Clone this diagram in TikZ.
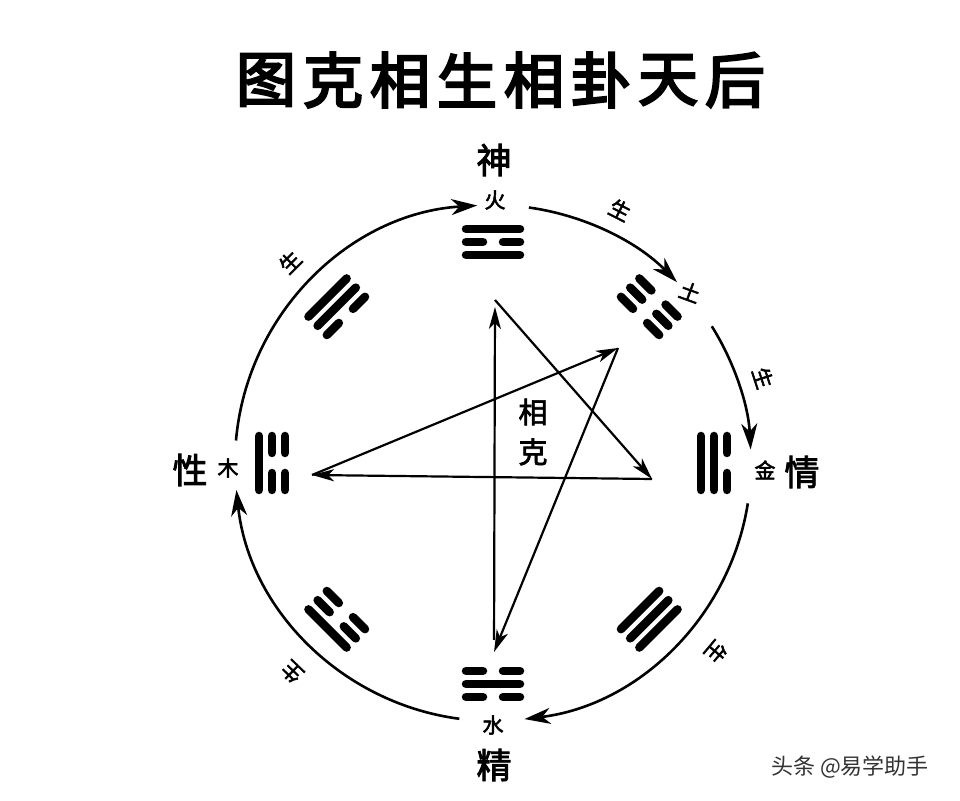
\documentclass[tikz,border=0pt]{standalone}
\usepackage{fontspec}
\usepackage{tikz}
\usetikzlibrary{arrows.meta,calc}
\newfontfamily\cjk[FakeBold=2.5]{Noto Sans CJK SC}
\newfontfamily\cjktitle[FakeBold=4]{Noto Sans CJK SC}
\newfontfamily\cjkmark{Noto Sans CJK SC}

\tikzset{
	shengarc/.style={line width=2.6pt, -{Stealth[length=26pt,width=16pt,inset=8pt]}},
	keline/.style={line width=2.2pt, -{Stealth[length=22pt,width=12pt,inset=6pt]}},
	yao/.style={line width=8.5pt, line cap=round},
	titlezi/.style={font=\cjktitle\fontsize{60}{60}\selectfont, inner sep=0pt},
	bigzi/.style={font=\cjk\fontsize{35}{35}\selectfont, inner sep=0pt},
	kezi/.style={font=\cjk\fontsize{29}{29}\selectfont, inner sep=0pt},
	xiaozi/.style={font=\cjk\fontsize{21}{21}\selectfont, inner sep=0pt},
}

% #1 angle, #2 lines from the centre outwards (1 whole, 0 broken)
\newcommand\guaxiang[2]{%
	\begin{scope}[shift={(C)}, rotate=#1]
		\foreach \yao [count=\i from 0] in {#2}{
			\pgfmathsetmacro\rr{208+13*\i}
			\ifnum\yao=1
				\draw[yao] (\rr,-27) -- (\rr,27);
			\else
				\draw[yao] (\rr,-27) -- (\rr,-10) (\rr,10) -- (\rr,27);
			\fi
		}
	\end{scope}}

\begin{document}
\begin{tikzpicture}[x=1pt, y=1pt]
	\useasboundingbox[fill=white] (0,0) rectangle (960,800);
	\coordinate (C) at (493,337);

	\foreach \zi [count=\i from 0] in {图,克,相,生,相,卦,天,后}
		\node[titlezi] (title\i) at (266+67*\i, 720) {\zi};

	% xiang sheng
	\draw[shengarc] ($(C)+(175:258)$) arc[start angle=175, end angle=93.5, radius=258];
	\draw[shengarc] ($(C)+(82:258)$) arc[start angle=82, end angle=44.5, radius=258];
	\draw[shengarc] ($(C)+(32:258)$) arc[start angle=32, end angle=3, radius=258];
	\draw[shengarc] ($(C)+(-9:258)$) arc[start angle=-9, end angle=-83, radius=258];
	\draw[shengarc] ($(C)+(-97.5:258)$) arc[start angle=-97.5, end angle=-174, radius=258];

	\guaxiang{90}{1,0,1}
	\guaxiang{45}{0,0,0}
	\guaxiang{0}{1,1,0}
	\guaxiang{-45}{1,1,1}
	\guaxiang{-90}{0,1,0}
	\guaxiang{-135}{0,0,1}
	\guaxiang{180}{0,0,1}
	\guaxiang{135}{0,1,1}

	\node[bigzi] (shen) at (494,640) {神};
	\node[xiaozi] (huo) at (495,600) {火};
	\node[bigzi] (qing) at (802,328) {情};
	\node[xiaozi] (jin) at (765,330) {金};
	\node[bigzi] (jing) at (494,35) {精};
	\node[xiaozi] (shui) at (493,75) {水};
	\node[bigzi] (xing) at (190,330) {性};
	\node[xiaozi] (mu) at (228,332) {木};
	\node[xiaozi, rotate=-20] (tu) at (690,508) {土};
	\foreach \px/\py/\ang [count=\i] in {620/590/-27, 763/422/-72, 716/148/-130, 292/128/136, 290/538/45}
		\node[xiaozi, rotate=\ang] (sheng\i) at (\px,\py) {生};

	% xiang ke
	\coordinate (kfire) at (495,500);
	\coordinate (kmetal) at (652,321);
	\coordinate (kwood) at (312,325);
	\coordinate (kearth) at (618,452);
	\coordinate (kwater) at (494,148);
	\draw[keline] (kfire) -- (kmetal);
	\draw[keline] (kmetal) -- (kwood);
	\draw[keline] (kwood) -- (kearth);
	\draw[keline] (kearth) -- (kwater);
	\draw[keline, shorten <=12pt, shorten >=7pt] (kwater) -- (kfire);
	\node[kezi] (xiang) at (533,388) {相};
	\node[kezi] (ke) at (533,348) {克};

	\node[font=\cjkmark\fontsize{22}{22}\selectfont, text=black!80, inner sep=0pt] (mark) at (850,33) {头条 @易学助手};
\end{tikzpicture}
\end{document}
